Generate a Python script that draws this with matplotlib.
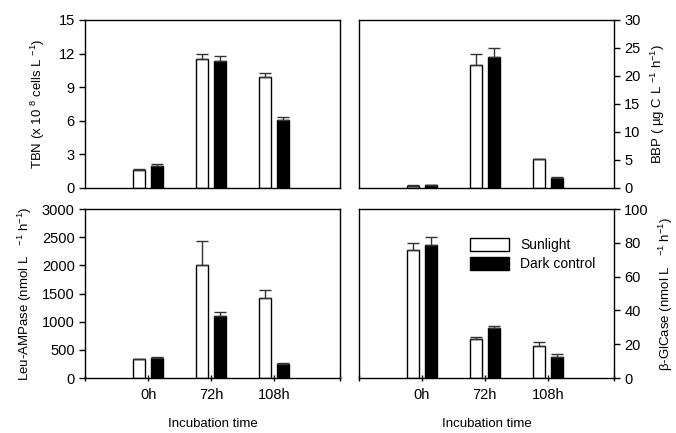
import numpy as np
import matplotlib
matplotlib.use('Agg')
import matplotlib.pyplot as plt

plt.rcParams['font.family'] = ['Liberation Sans', 'DejaVu Sans']
plt.rcParams['mathtext.fontset'] = 'custom'
plt.rcParams['mathtext.rm'] = 'Liberation Sans'
plt.rcParams['mathtext.it'] = 'Liberation Sans'
plt.rcParams['font.size'] = 10

# data
times = ['0h', '72h', '108h']

tbn_sun = [1.6, 11.5, 9.9]
tbn_sun_err = [0.1, 0.5, 0.35]
tbn_dark = [2.0, 11.3, 6.1]
tbn_dark_err = [0.15, 0.5, 0.25]

bbp_sun = [0.4, 22.0, 5.2]
bbp_sun_err = [0.05, 2.0, 0.0]
bbp_dark = [0.45, 23.4, 1.8]
bbp_dark_err = [0.05, 1.5, 0.1]

leu_sun = [330, 2010, 1430]
leu_sun_err = [10, 420, 140]
leu_dark = [360, 1100, 250]
leu_dark_err = [10, 70, 10]

glc_sun = [76, 23, 19]
glc_sun_err = [4, 1.5, 2.5]
glc_dark = [79, 29.5, 12.5]
glc_dark_err = [4.5, 1.5, 1.5]

fig = plt.figure(figsize=(6.76, 4.33), dpi=100)
ax1 = fig.add_axes([0.126, 0.566, 0.377, 0.388])
ax2 = fig.add_axes([0.531, 0.566, 0.377, 0.388])
ax3 = fig.add_axes([0.126, 0.127, 0.377, 0.390])
ax4 = fig.add_axes([0.531, 0.127, 0.377, 0.390])

x = np.arange(len(times))
w = 0.19
off = 0.145
ekw = dict(ecolor='#333333', elinewidth=1.0, capsize=4.5, capthick=1.0)


def draw(ax, s, se, d, de):
    ax.bar(x - off, s, w, color='white', edgecolor='black', linewidth=1.0,
           yerr=[np.zeros(len(s)), se], error_kw=ekw, label='Sunlight')
    ax.bar(x + off, d, w, color='black', edgecolor='black', linewidth=1.0,
           yerr=[np.zeros(len(d)), de], error_kw=ekw, label='Dark control')
    ax.set_xlim(-1.0, 3.05)
    for sp in ax.spines.values():
        sp.set_linewidth(1.0)


draw(ax1, tbn_sun, tbn_sun_err, tbn_dark, tbn_dark_err)
draw(ax2, bbp_sun, bbp_sun_err, bbp_dark, bbp_dark_err)
draw(ax3, leu_sun, leu_sun_err, leu_dark, leu_dark_err)
draw(ax4, glc_sun, glc_sun_err, glc_dark, glc_dark_err)

ax1.set_ylim(0, 15)
ax1.set_yticks(np.arange(0, 16, 3))
ax2.set_ylim(0, 30)
ax2.set_yticks(np.arange(0, 31, 5))
ax3.set_ylim(0, 3000)
ax3.set_yticks(np.arange(0, 3001, 500))
ax4.set_ylim(0, 100)
ax4.set_yticks(np.arange(0, 101, 20))

for ax in (ax1, ax2):
    ax.set_xticks([])
for ax in (ax3, ax4):
    ax.set_xticks([-1.0, 0, 1, 2, 3.05])
    ax.set_xticklabels(['', '0h', '72h', '108h', ''])
    ax.tick_params(axis='x', direction='inout', length=5, width=1.0, pad=5, labelsize=10.5)
    ax.set_xlabel('Incubation time', fontsize=9.5, labelpad=11)

for ax in (ax2, ax4):
    ax.yaxis.tick_right()
    ax.yaxis.set_label_position('right')
for ax in (ax1, ax2, ax3, ax4):
    ax.tick_params(axis='y', direction='out', length=4, width=1.0, labelsize=10.5)

ax1.set_ylabel('TBN (x 10 $^{8}$ cells L $^{-1}$)', fontsize=9.5, labelpad=8)
ax2.set_ylabel('BBP ( \u00b5g C L $^{-1}$ h$^{-1}$)', fontsize=9.5, labelpad=6, rotation=90)
ax3.set_ylabel('Leu-AMPase (nmol L   $^{-1}$ h$^{-1}$)', fontsize=9.5, labelpad=6)
ax4.set_ylabel('\u03b2-GlCase (nmol L   $^{-1}$ h$^{-1}$)', fontsize=9.5, labelpad=6, rotation=90)

ax4.legend(loc='upper left', bbox_to_anchor=(0.41, 0.87), frameon=False,
           fontsize=10, handlelength=2.8, handleheight=1.1, labelspacing=0.3,
           handletextpad=0.8, borderpad=0)

fig.savefig('out.png', dpi=100)
